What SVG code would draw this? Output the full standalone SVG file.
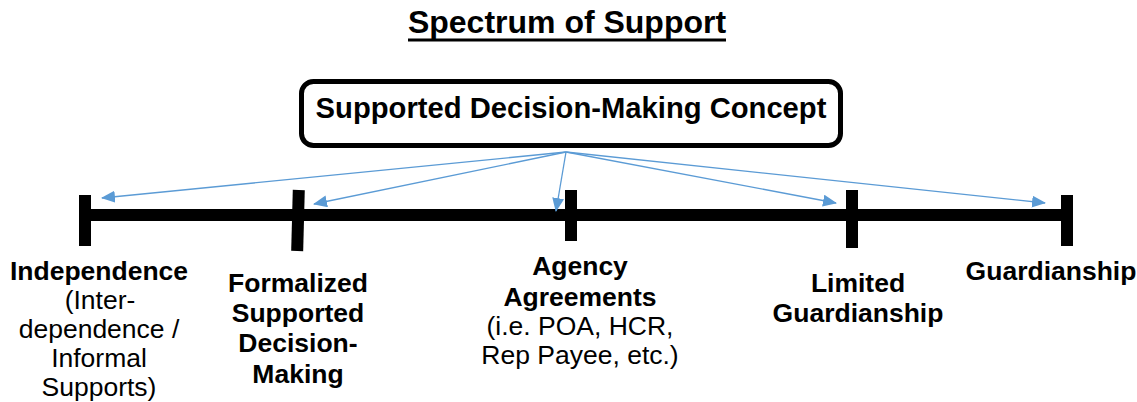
<svg xmlns="http://www.w3.org/2000/svg" width="1137" height="402" viewBox="0 0 1137 402">
<style>
text{font-family:"Liberation Sans",Arial,sans-serif;fill:#000;text-anchor:middle}
.b{font-weight:bold}
.lbl{font-size:26.5px}
.con{stroke:#5B9BD5;stroke-width:1.3;fill:none;marker-end:url(#ah)}
.tick{fill:#000}
</style>
<defs>
<marker id="ah" markerWidth="14" markerHeight="12" refX="13" refY="6" orient="auto" markerUnits="userSpaceOnUse">
<path d="M0,0 L14,6 L0,12 Z" fill="#5B9BD5"/>
</marker>
</defs>
<rect width="1137" height="402" fill="#fff"/>
<g id="title">
<text x="567" y="33" class="b" font-size="32">Spectrum of Support</text>
<rect x="408" y="38.5" width="318" height="3" fill="#000"/>
</g>
<g id="concept">
<rect x="301.5" y="81.5" width="539" height="64" rx="12" fill="#fff" stroke="#000" stroke-width="5"/>
<text x="571" y="118" class="b" font-size="29.2">Supported Decision-Making Concept</text>
</g>
<g id="axis">
<rect x="85" y="209" width="982" height="12" fill="#000"/>
<rect class="tick" x="79" y="195" width="12" height="51"/>
<rect class="tick" x="292" y="190" width="12" height="61" transform="rotate(1.5 298 220)"/>
<rect class="tick" x="565" y="190" width="12" height="51"/>
<rect class="tick" x="846" y="190" width="12" height="58"/>
<rect class="tick" x="1061" y="195" width="12" height="51"/>
</g>
<g id="connectors">
<line class="con" x1="566" y1="152" x2="102" y2="198"/>
<line class="con" x1="566" y1="152" x2="314" y2="204"/>
<line class="con" x1="566" y1="152" x2="556" y2="211"/>
<line class="con" x1="566" y1="152" x2="836" y2="203"/>
<line class="con" x1="566" y1="152" x2="1045" y2="203"/>
</g>
<g id="independence" class="lbl">
<text x="99" y="280" class="b">Independence</text>
<text x="100" y="309">(Inter-</text>
<text x="99" y="338">dependence /</text>
<text x="99" y="367">Informal</text>
<text x="99" y="396">Supports)</text>
</g>
<g id="formalized" class="lbl">
<text x="298" y="292" class="b">Formalized</text>
<text x="298" y="322" class="b">Supported</text>
<text x="298" y="352" class="b">Decision-</text>
<text x="298" y="383" class="b">Making</text>
</g>
<g id="agency" class="lbl">
<text x="580" y="275" class="b">Agency</text>
<text x="580" y="306" class="b">Agreements</text>
<text x="580" y="335">(i.e. POA, HCR,</text>
<text x="580" y="364">Rep Payee, etc.)</text>
</g>
<g id="limited" class="lbl">
<text x="858" y="292" class="b">Limited</text>
<text x="858" y="322" class="b">Guardianship</text>
</g>
<g id="guardianship" class="lbl">
<text x="1051" y="280" class="b">Guardianship</text>
</g>
</svg>
